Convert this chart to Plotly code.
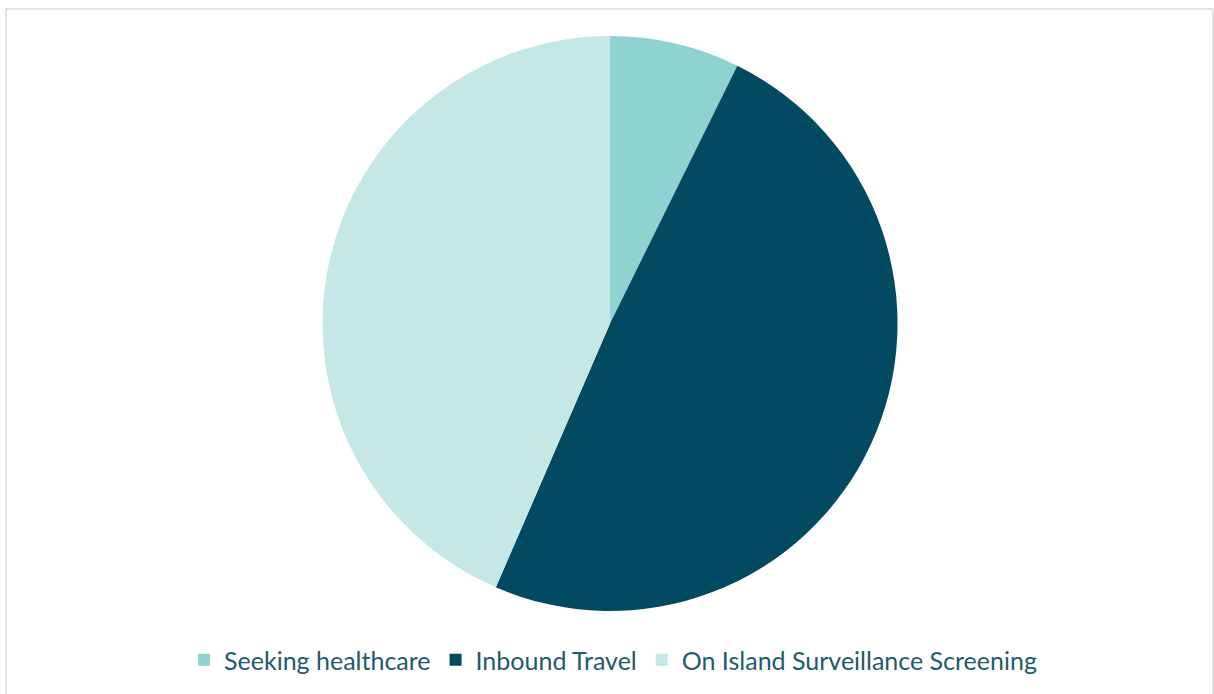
import plotly.graph_objects as go

labels = ["Seeking healthcare", "Inbound Travel", "On Island Surveillance Screening"]
values = [7.3, 49.2, 43.5]
colors = ["#8ed3cf", "#024a62", "#c5e7e5"]

fig = go.Figure(go.Pie(
    labels=labels,
    values=values,
    marker=dict(colors=colors, line=dict(width=0)),
    sort=False,
    direction="clockwise",
    rotation=0,
    textinfo="none",
    hoverinfo="label+percent",
    domain=dict(x=[0.005, 1], y=[0, 1]),
))

W, H = 1214, 694
T, B = 36, 83
ph = H - T - B

fig.update_layout(
    width=W, height=H,
    margin=dict(l=0, r=0, t=T, b=B, pad=0),
    paper_bgcolor="white",
    plot_bgcolor="white",
    showlegend=True,
    legend=dict(
        orientation="h",
        x=0.505, xanchor="center",
        y=-(660 - (H - B)) / ph, yanchor="middle",
        font=dict(family="Lato", size=25, color="#1f5a6e"),
        itemwidth=30,
        tracegroupgap=0,
    ),
    shapes=[dict(
        type="rect", xref="paper", yref="paper",
        x0=6 / W, x1=1213 / W,
        y0=((H - B) - 720) / ph, y1=((H - B) - 9) / ph,
        line=dict(color="#d9d9d9", width=1.5),
        fillcolor="rgba(0,0,0,0)",
        layer="below",
    )],
)

fig.write_html("out.html", config={"displayModeBar": False},
               post_script="document.body.style.margin='0';")
